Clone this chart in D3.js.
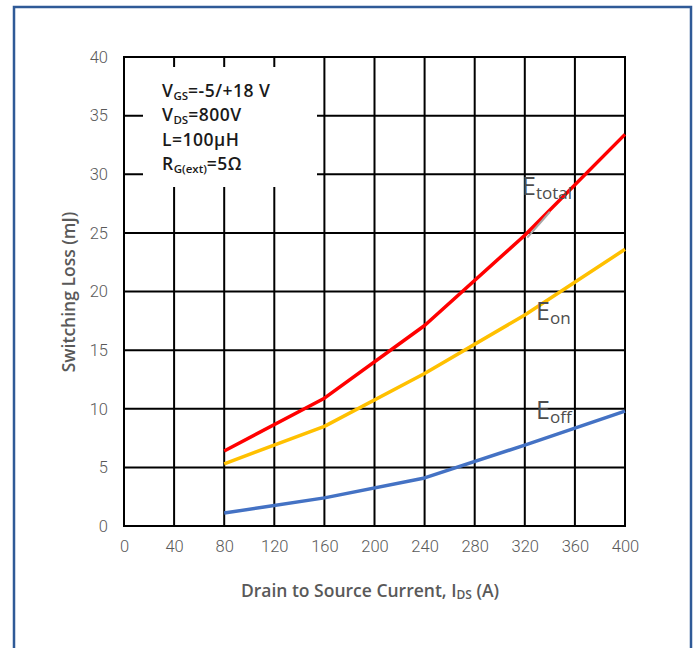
<!DOCTYPE html>
<html>
<head>
<meta charset="utf-8">
<script src="https://cdn.jsdelivr.net/npm/d3@7"></script>
<style>
  html, body { margin: 0; padding: 0; background: #fff; }
  svg { display: block; }
</style>
</head>
<body>
<svg id="chart" width="700" height="648"></svg>
<script>
// ---- data ----
const currents = [80, 160, 240, 320, 400];
const eTotal = [6.4, 10.9, 17.1, 24.8, 33.4];
const eOn = [5.3, 8.5, 13.0, 18.0, 23.6];
const eOff = [1.1, 2.4, 4.1, 6.9, 9.8];
const xTicks = [0, 40, 80, 120, 160, 200, 240, 280, 320, 360, 400];
const yTicks = [0, 5, 10, 15, 20, 25, 30, 35, 40];

const svg = d3.select("#chart");
const m = { left: 124, right: 625, top: 57, bottom: 526 };

const x = d3.scaleLinear().domain([0, 400]).range([m.left, m.right]);
const y = d3.scaleLinear().domain([0, 40]).range([m.bottom, m.top]);

// outer blue frame
svg.append("rect")
  .attr("x", 14).attr("y", 7).attr("width", 677).attr("height", 660)
  .attr("fill", "#fff").attr("stroke", "#2F5A97").attr("stroke-width", 2.5);

// grid
const grid = svg.append("g").attr("stroke", "#000").attr("stroke-width", 2);
grid.selectAll("line.v").data(xTicks).join("line")
  .attr("x1", d => x(d)).attr("x2", d => x(d))
  .attr("y1", y(0)).attr("y2", y(40));
grid.selectAll("line.h").data(yTicks).join("line")
  .attr("x1", x(0)).attr("x2", x(400))
  .attr("y1", d => y(d)).attr("y2", d => y(d));
svg.append("rect")
  .attr("x", x(0)).attr("y", y(40)).attr("width", x(400) - x(0)).attr("height", y(0) - y(40))
  .attr("fill", "none").attr("stroke", "#000").attr("stroke-width", 2);

// annotation box (covers grid)
svg.append("rect")
  .attr("x", 143).attr("y", 67).attr("width", 174).attr("height", 120)
  .attr("fill", "#fff");

// axes (labels only)
const tickFont = "Roboto, 'Liberation Sans', sans-serif";
const xAxis = svg.append("g")
  .attr("transform", `translate(0,${m.bottom})`)
  .call(d3.axisBottom(x).tickValues(xTicks).tickSize(0).tickPadding(14));
const yAxis = svg.append("g")
  .attr("transform", `translate(${m.left},0)`)
  .call(d3.axisLeft(y).tickValues(yTicks).tickSize(0).tickPadding(16));
[xAxis, yAxis].forEach(a => {
  a.select(".domain").remove();
  a.selectAll("text")
    .attr("font-family", tickFont).attr("font-weight", 300)
    .attr("font-size", 16.5).attr("fill", "#595959");
});

// series
const line = d3.line().x(d => x(d[0])).y(d => y(d[1]));
const series = [
  { vals: eOff, color: "#4472C4" },
  { vals: eOn, color: "#FFC000" },
  { vals: eTotal, color: "#FF0000" }
];
series.forEach(s => {
  svg.append("path")
    .datum(currents.map((c, i) => [c, s.vals[i]]))
    .attr("d", line)
    .attr("fill", "none").attr("stroke", s.color)
    .attr("stroke-width", 3.5).attr("stroke-linejoin", "round");
});

// leader line for Etotal
svg.append("line")
  .attr("x1", x(322)).attr("y1", y(24.6)).attr("x2", x(340)).attr("y2", y(26.8))
  .attr("stroke", "#A6A6A6").attr("stroke-width", 2);

// series labels
const labFont = "'Open Sans', 'Noto Sans', sans-serif";
function seriesLabel(px, py, sub) {
  const t = svg.append("text").attr("x", px).attr("y", py)
    .attr("font-family", labFont).attr("font-weight", 500).attr("fill", "#4d4d4d");
  t.append("tspan").attr("font-size", 25).text("E");
  t.append("tspan").attr("font-size", 17).attr("dy", 4).text(sub);
}
seriesLabel(522, 195, "total");
seriesLabel(536, 320, "on");
seriesLabel(536, 419, "off");

// annotation text
const annFont = "'Open Sans', 'Noto Sans', sans-serif";
const ann = [
  { main: "V", sub: "GS", rest: "=-5/+18 V", yy: 97 },
  { main: "V", sub: "DS", rest: "=800V", yy: 121 },
  { main: "L=100μH", sub: "", rest: "", yy: 146 },
  { main: "R", sub: "G(ext)", rest: "=5Ω", yy: 170 }
];
ann.forEach(a => {
  const t = svg.append("text").attr("x", 162).attr("y", a.yy)
    .attr("font-family", annFont).attr("font-weight", 600)
    .attr("font-size", 17.5).attr("letter-spacing", 0.5).attr("fill", "#1a1a1a");
  t.append("tspan").text(a.main);
  if (a.sub) {
    t.append("tspan").attr("font-size", 11.5).attr("letter-spacing", 0).attr("dy", 3).text(a.sub);
    t.append("tspan").attr("dy", -3).text(a.rest);
  }
});

// axis titles
const titleFont = "'Open Sans', 'Noto Sans', sans-serif";
const xt = svg.append("text")
  .attr("x", 370).attr("y", 597).attr("text-anchor", "middle")
  .attr("font-family", titleFont).attr("font-weight", 600)
  .attr("font-size", 17.5).attr("fill", "#595959");
xt.append("tspan").text("Drain to Source Current, I");
xt.append("tspan").attr("font-size", 12).attr("dy", 2).text("DS");
xt.append("tspan").attr("dy", -2).text(" (A)");

svg.append("text")
  .attr("transform", `translate(75,292) rotate(-90)`)
  .attr("text-anchor", "middle")
  .attr("font-family", titleFont).attr("font-weight", 600)
  .attr("font-size", 17.5).attr("fill", "#595959")
  .text("Switching Loss (mJ)");
</script>
</body>
</html>
